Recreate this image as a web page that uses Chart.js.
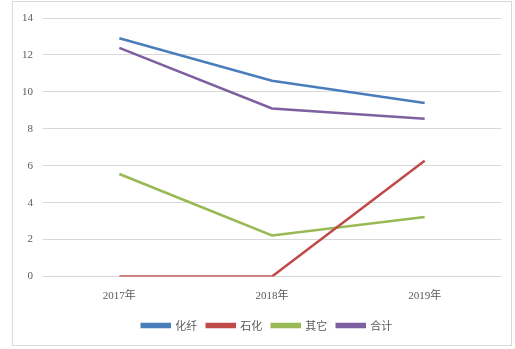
<!DOCTYPE html>
<html>
<head>
<meta charset="utf-8">
<script src="https://cdn.jsdelivr.net/npm/chart.js@4"></script>
<style>
  body { margin: 0; background: #fff; }
  #wrap { position: relative; width: 515px; height: 349px; }
  #frame { position: absolute; left: 12px; top: 1px; width: 500px; height: 345px; border: 1px solid #d9d9d9; box-sizing: border-box; pointer-events: none; }
</style>
</head>
<body>
<div id="wrap">
  <canvas id="myChart" width="515" height="349"></canvas>
  <div id="frame"></div>
</div>
<script>
// categories and series
const years = ["2017年", "2018年", "2019年"];
const huaxian = [12.9, 10.6, 9.4];   // 化纤
const shihua = [0, 0, 6.27];         // 石化
const qita = [5.55, 2.22, 3.22];     // 其它
const heji = [12.38, 9.1, 8.55];     // 合计
const yTicks = [0, 2, 4, 6, 8, 10, 12, 14];

function series(label, data, color) {
  return {
    label: label,
    data: data,
    borderColor: color,
    backgroundColor: color,
    borderWidth: 2.5,
    pointRadius: 0,
    tension: 0,
  };
}

//legend sits a bit right of centre in the original
const legendShift = {
  id: "legendShift",
  afterLayout(chart) {
    chart.legend.left += 10;
    chart.legend.right += 10;
  },
};

var ctx = document.getElementById("myChart").getContext("2d");

var chart = new Chart(ctx, {
  type: "line",
  data: {
    labels: years,
    datasets: [
      series("化纤", huaxian, "#4a7ebb"),
      series("石化", shihua, "#be4b48"),
      series("其它", qita, "#98b954"),
      series("合计", heji, "#7d60a0"),
    ],
  },
  options: {
    responsive: false,
    animation: false,
    layout: {
      padding: { left: 13, right: 14, top: 18, bottom: 8 },
    },
    plugins: {
      tooltip: { enabled: false },
      legend: {
        position: "bottom",
        labels: {
          boxWidth: 28,
          boxHeight: 3,
          padding: 9.5,
          color: "#595959",
          font: { family: "'Noto Sans CJK SC'", size: 11 },
        },
      },
    },
    scales: {
      x: {
        offset: true,
        grid: { display: false },
        border: { display: false },
        ticks: {
          color: "#595959",
          padding: 5,
          font: { family: "'Liberation Serif', 'Noto Sans CJK SC'", size: 11 },
        },
        afterFit(scale) {
          scale.height = 34;
        },
      },
      y: {
        min: 0,
        max: 14,
        afterBuildTicks(scale) {
          scale.ticks = yTicks.map((v) => ({ value: v }));
        },
        grid: { color: "#d9d9d9", drawTicks: false },
        border: { display: false },
        ticks: {
          color: "#595959",
          padding: 10,
          font: { family: "'Liberation Serif'", size: 11 },
        },
        afterFit(scale) {
          scale.width = 30;
        },
      },
    },
  },
  plugins: [legendShift],
});
</script>
</body>
</html>
